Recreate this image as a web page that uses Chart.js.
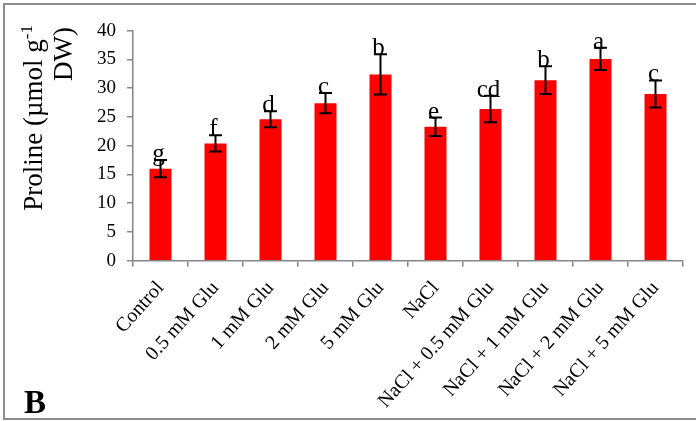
<!DOCTYPE html>
<html>
<head>
<meta charset="utf-8">
<script src="https://cdn.jsdelivr.net/npm/chart.js@4.4.1/dist/chart.umd.min.js"></script>
<style>
  html, body { margin: 0; padding: 0; background: #ffffff; }
  #wrap { width: 696px; height: 421px; }
</style>
</head>
<body>
<div id="wrap"><canvas id="c" width="696" height="421"></canvas></div>
<script>
// Treatments and measured proline content (µmol g-1 DW)
const categories = [
  'Control', '0.5 mM Glu', '1 mM Glu', '2 mM Glu', '5 mM Glu',
  'NaCl', 'NaCl + 0.5 mM Glu', 'NaCl + 1 mM Glu', 'NaCl + 2 mM Glu', 'NaCl + 5 mM Glu'
];
const proline = [16.0, 20.4, 24.6, 27.4, 32.4, 23.3, 26.4, 31.4, 35.1, 29.0];
const errors = [1.5, 1.4, 1.4, 1.75, 3.5, 1.6, 2.3, 2.4, 1.95, 2.35];
const groups = ['g', 'f', 'd', 'c', 'b', 'e', 'cd', 'b', 'a', 'c'];
const yTicks = [0, 5, 10, 15, 20, 25, 30, 35, 40];

const SERIF = '"Liberation Serif", "Times New Roman", serif';
const AXIS_GREY = '#868686';

// Frame, panel letter and rotated two-line y title
const decorations = {
  id: 'decorations',
  beforeDraw(chart) {
    const ctx = chart.ctx;
    ctx.save();
    ctx.fillStyle = '#ffffff';
    ctx.fillRect(0, 0, chart.width, chart.height);
    ctx.restore();
  },
  afterDraw(chart) {
    const ctx = chart.ctx;
    ctx.save();
    // outer frame
    ctx.strokeStyle = '#8c8c8c';
    ctx.lineWidth = 2;
    ctx.strokeRect(4, 4, chart.width + 10, 415);

    // panel letter
    ctx.fillStyle = '#000';
    ctx.font = 'bold 33px ' + SERIF;
    ctx.textAlign = 'left';
    ctx.textBaseline = 'alphabetic';
    ctx.fillText('B', 24, 413);

    // y axis title, rotated, lines end-aligned toward the top
    ctx.rotate(-Math.PI / 2);
    const endU = -25;
    ctx.font = '17px ' + SERIF;
    const sup = '-1';
    const supW = ctx.measureText(sup).width;
    ctx.textAlign = 'right';
    ctx.fillText(sup, endU, 32);
    ctx.font = '27px ' + SERIF;
    ctx.fillText('Proline (µmol g', endU - supW, 42);
    ctx.fillText('DW)', endU - 2, 72);
    ctx.restore();
  }
};

// Error bars and significance letters above each bar
const errorBars = {
  id: 'errorBars',
  afterDatasetsDraw(chart) {
    const ctx = chart.ctx;
    const yScale = chart.scales.y;
    const meta = chart.getDatasetMeta(0);
    ctx.save();
    ctx.strokeStyle = '#000';
    ctx.lineWidth = 2;
    ctx.fillStyle = '#000';
    ctx.font = '25px ' + SERIF;
    ctx.textAlign = 'center';
    ctx.textBaseline = 'alphabetic';
    meta.data.forEach((bar, i) => {
      const x = bar.x;
      const top = yScale.getPixelForValue(proline[i] + errors[i]);
      const bot = yScale.getPixelForValue(proline[i] - errors[i]);
      const half = 6.5;
      ctx.beginPath();
      ctx.moveTo(x, top); ctx.lineTo(x, bot);
      ctx.moveTo(x - half, top); ctx.lineTo(x + half, top);
      ctx.moveTo(x - half, bot); ctx.lineTo(x + half, bot);
      ctx.stroke();
      ctx.fillText(groups[i], x - 2, top + 1);
    });
    ctx.restore();
  }
};

new Chart(document.getElementById('c'), {
  type: 'bar',
  data: {
    labels: categories,
    datasets: [{
      data: proline,
      backgroundColor: '#ff0000',
      borderWidth: 0,
      categoryPercentage: 1.0,
      barPercentage: 0.4
    }]
  },
  options: {
    responsive: false,
    animation: false,
    devicePixelRatio: 1,
    layout: { padding: { top: 30.7, right: 13, left: 0, bottom: 0 } },
    plugins: { legend: { display: false }, tooltip: { enabled: false } },
    scales: {
      x: {
        grid: { offset: true, drawOnChartArea: false, drawTicks: true, tickLength: 6, color: AXIS_GREY, lineWidth: 1.5 },
        border: { color: AXIS_GREY, width: 1.5 },
        ticks: {
          color: '#000',
          font: { family: SERIF, size: 20 },
          minRotation: 48, maxRotation: 48,
          autoSkip: false,
          padding: 10
        },
        afterFit(scale) { scale.height = 421 - 260.7; }
      },
      y: {
        min: 0, max: 40,
        afterBuildTicks(scale) { scale.ticks = yTicks.map(v => ({ value: v })); },
        grid: { drawOnChartArea: false, drawTicks: true, tickLength: 6, color: AXIS_GREY, lineWidth: 1.5 },
        border: { color: AXIS_GREY, width: 1.5 },
        ticks: {
          color: '#000',
          font: { family: SERIF, size: 19 },
          padding: 11
        },
        afterFit(scale) { scale.width = 133; }
      }
    }
  },
  plugins: [decorations, errorBars]
});
</script>
</body>
</html>
